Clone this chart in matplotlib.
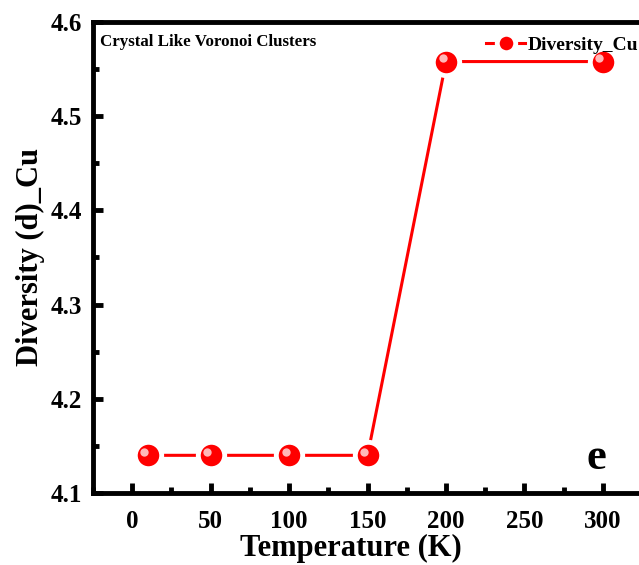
import matplotlib
matplotlib.use('Agg')
import matplotlib.pyplot as plt
from matplotlib.ticker import MultipleLocator
from matplotlib.transforms import ScaledTranslation

# data
temperature = [10, 50, 100, 150, 200, 300]
diversity_cu = [4.14, 4.14, 4.14, 4.14, 4.558, 4.558]

x_ticks = [0, 50, 100, 150, 200, 250, 300]
y_ticks = [4.1, 4.2, 4.3, 4.4, 4.5, 4.6]

plt.rcParams['font.family'] = 'Liberation Serif'
plt.rcParams['font.weight'] = 'bold'

fig = plt.figure(figsize=(6.39, 5.65), dpi=100)
ax = fig.add_axes([93/639, 72/565, 557/639, 471/565])

# line with gaps around the markers (white marker edge)
ax.plot(temperature, diversity_cu, color='red', lw=2.2, marker='o', ms=19,
        mfc='red', mec='white', mew=3.5, label='Diversity_Cu', zorder=3)
# highlight for the shaded ball look
shift = ax.transData + ScaledTranslation(-2.5/72, 2.5/72, fig.dpi_scale_trans)
ax.plot(temperature, diversity_cu, ls='none', marker='o', ms=6,
        mfc='#ffb8b8', mec='none', zorder=4, transform=shift)

ax.set_xlim(-25, 330)
ax.set_ylim(4.1, 4.6)
ax.set_xticks(x_ticks)
ax.set_yticks(y_ticks)
ax.xaxis.set_minor_locator(MultipleLocator(25))
ax.yaxis.set_minor_locator(MultipleLocator(0.05))

for s in ax.spines.values():
    s.set_linewidth(3.5)
ax.tick_params(which='major', direction='in', length=7, width=3.5, labelsize=18)
ax.tick_params(axis='x', which='major', pad=12)
ax.tick_params(axis='y', which='major', pad=8)
ax.tick_params(which='minor', direction='in', length=4, width=3.5)
ax.tick_params(top=False, right=False, which='both')
for lab in ax.get_xticklabels() + ax.get_yticklabels():
    lab.set_fontweight('bold')

ax.set_xlabel('Temperature (K)', fontsize=22, fontweight='bold')
ax.xaxis.set_label_coords((351 - 93) / 557, -41 / 471)
ax.set_ylabel('Diversity (d)_Cu', fontsize=22, fontweight='bold', labelpad=4)

ax.text(0.013, 0.975, 'Crystal Like Voronoi Clusters', transform=ax.transAxes,
        fontsize=12.2, fontweight='bold', va='top', ha='left')
ax.text(296, 4.137, 'e', fontsize=32, fontweight='bold', ha='center', va='center')

ax.legend(loc='upper left', bbox_to_anchor=(0.685, 0.995), frameon=False,
          prop={'weight': 'bold', 'size': 14}, handlelength=2.0,
          handletextpad=0.15, markerscale=0.7, borderaxespad=0.2)

fig.savefig('out.png', dpi=100)
